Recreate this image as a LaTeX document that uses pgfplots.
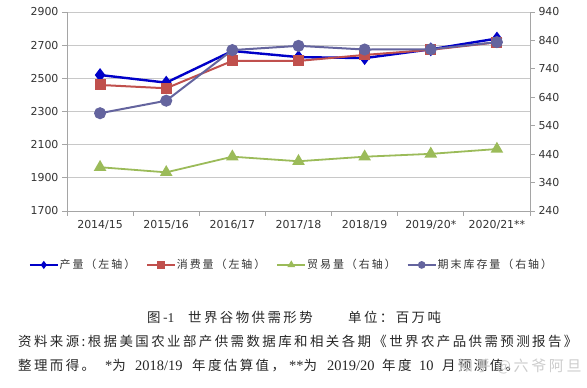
\documentclass[border=0pt]{standalone}
\usepackage{fontspec}
\setmainfont{DejaVu Sans}
\newfontfamily\cjk{Noto Sans CJK SC}[LetterSpace=18]
\newfontfamily\lat{Liberation Serif}
\usepackage{pgfplots}
\pgfplotsset{compat=1.18}
\definecolor{cprod}{RGB}{0,0,200}
\definecolor{ccons}{RGB}{192,80,77}
\definecolor{ctrade}{RGB}{155,187,89}
\definecolor{cstock}{RGB}{100,100,158}
\definecolor{cgrid}{RGB}{200,200,200}
\definecolor{caxis}{RGB}{165,165,165}
\begin{document}
\begin{tikzpicture}
\useasboundingbox (0,0) rectangle (587bp,388bp);
\pgfplotsset{
  base/.style={
    at={(67bp,177bp)}, anchor=south west,
    scale only axis, width=463bp, height=199bp,
    xmin=-0.5, xmax=6.5,
    tick align=outside, major tick length=5bp,
    axis line style={caxis, line width=0.8bp},
    major tick style={caxis, line width=0.8bp},
    tick label style={font=\fontsize{11}{13}\selectfont, text=black!80},
    /pgf/number format/assume math mode=true,
    /pgf/number format/set thousands separator={},
    clip=false,
  },
  prod/.style={cprod, line width=2.4bp, mark=diamond*, mark size=5bp, mark options={solid, fill=cprod}},
  cons/.style={ccons, line width=2bp, mark=square*, mark size=4.5bp, mark options={solid, fill=ccons}},
  trade/.style={ctrade, line width=1.8bp, mark=triangle*, mark size=5.5bp, mark options={solid, fill=ctrade}},
  stock/.style={cstock, line width=2bp, mark=*, mark size=5bp, mark options={solid, fill=cstock}},
}
\begin{axis}[base,
  ymin=1700, ymax=2900, ytick={1700,1900,...,2900},
  ymajorgrids, grid style={cgrid, line width=0.9bp},
  axis x line*=bottom, axis y line*=left,
  xtick={-0.5,0.5,...,6.5}, x tick label as interval,
  xticklabels={2014/15,2015/16,2016/17,2017/18,2018/19,2019/20*,2020/21**},
  xticklabel style={yshift=-1bp},
]
\addplot[prod] coordinates {(0,2520) (1,2474) (2,2665) (3,2628) (4,2622) (5,2675) (6,2740)};
\addplot[cons] coordinates {(0,2460) (1,2440) (2,2605) (3,2605) (4,2641) (5,2672) (6,2717)};
\end{axis}
\begin{axis}[base,
  ymin=240, ymax=940, ytick={240,340,...,940},
  axis y line*=right, axis x line=none,
  legend columns=4,
  legend style={at={(0.484,-0.271)}, anchor=center, draw=none, fill=none,
    font=\cjk\fontsize{11}{13}\selectfont, text=black!80,
    nodes={inner sep=1bp},
    /tikz/every even column/.append style={column sep=10bp}},
  legend image code/.code={\draw[mark repeat=2, mark phase=2, mark size=2.8bp] plot coordinates {(0bp,0bp) (14bp,0bp) (28bp,0bp)};},
]
\addlegendimage{prod, line width=1.6bp}
\addlegendentry{产量（左轴）}
\addlegendimage{cons, line width=1.6bp}
\addlegendentry{消费量（左轴）}
\addplot[trade] coordinates {(0,394) (1,376) (2,431) (3,415) (4,431) (5,441) (6,458)};
\addlegendentry{贸易量（右轴）}
\addplot[stock] coordinates {(0,584) (1,628) (2,806) (3,821) (4,808) (5,809) (6,834)};
\addlegendentry{期末库存量（右轴）}
\end{axis}
\begin{scope}[every node/.style={inner sep=0pt, text=black!85, anchor=base west, font=\cjk\fontsize{13.5}{16}\selectfont}]
\node at (147bp,65bp) {图-{\lat 1}};
\node at (188bp,65bp) {世界谷物供需形势};
\node at (348bp,65bp) {单位：百万吨};
\node at (18bp,41bp) {资料来源:根据美国农业部产供需数据库和相关各期《世界农产品供需预测报告》};
\node at (18bp,18bp) {整理而得。};
\node at (105bp,18bp) {{\lat\fontsize{14.5}{16}\selectfont *}为};
\node[font=\lat\fontsize{14.5}{16}\selectfont] at (135bp,18bp) {2018/19};
\node at (192bp,18bp) {年度估算值，};
\node at (289bp,18bp) {{\lat\fontsize{14.5}{16}\selectfont **}为};
\node[font=\lat\fontsize{14.5}{16}\selectfont] at (327bp,18bp) {2019/20};
\node at (382bp,18bp) {年度};
\node[font=\lat\fontsize{14.5}{16}\selectfont] at (419bp,18bp) {10};
\node at (442bp,18bp) {月预测值。};
\node[text=black!20, font=\cjk\fontsize{15}{18}\selectfont] at (458bp,17bp) {知乎 @六爷阿旦};
\end{scope}
\end{tikzpicture}
\end{document}
